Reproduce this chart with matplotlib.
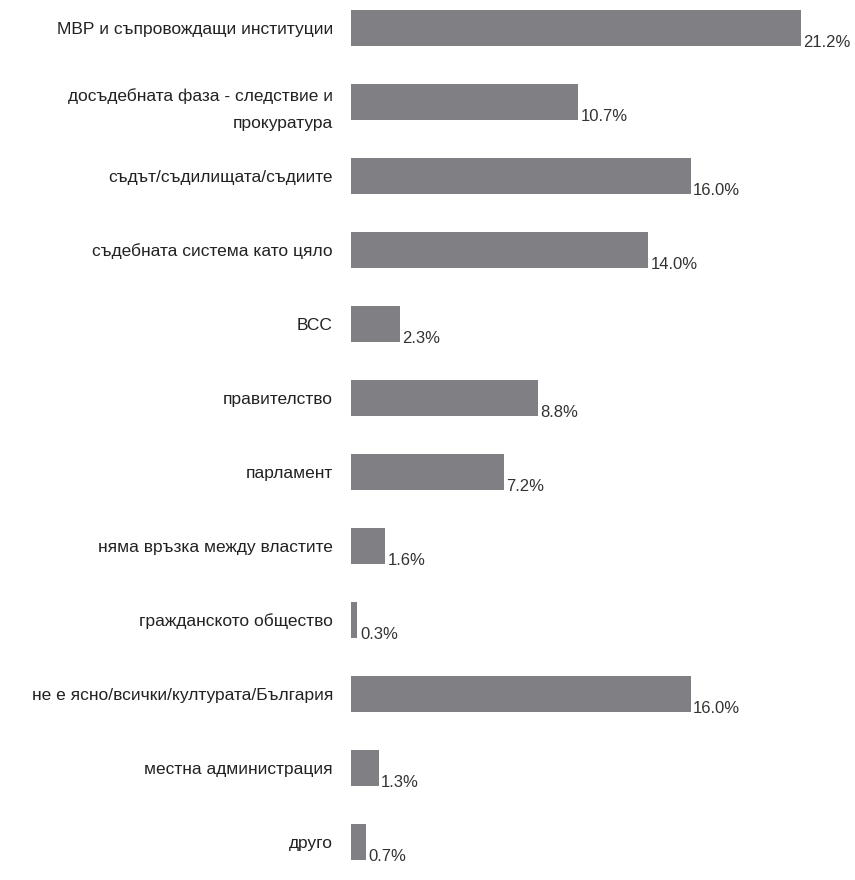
import matplotlib.pyplot as plt
import numpy as np

categories = [
    "МВР и съпровождащи институции",
    "досъдебната фаза - следствие и\nпрокуратура",
    "съдът/съдилищата/съдиите",
    "съдебната система като цяло",
    "ВСС",
    "правителство",
    "парламент",
    "няма връзка между властите",
    "гражданското общество",
    "не е ясно/всички/културата/България",
    "местна администрация",
    "друго",
]
values = [21.2, 10.7, 16.0, 14.0, 2.3, 8.8, 7.2, 1.6, 0.3, 16.0, 1.3, 0.7]

plt.rcParams["font.family"] = ["Liberation Sans Narrow", "Liberation Sans", "DejaVu Sans"]

W, H = 855, 880
fig = plt.figure(figsize=(W / 100, H / 100), dpi=100)
ax = fig.add_axes([351 / W, 20 / H, 450 / W, 850 / H])

y = np.arange(len(values))
bar_h = 36 / 74
ax.barh(y, values, height=bar_h, color="#808084")
ax.set_xlim(0, 21.2)
ax.set_ylim(len(values) - 1 + bar_h / 2, -bar_h / 2)

for yi, v in zip(y, values):
    ax.text(v + 0.12, yi + 0.2, f"{v:.1f}%", ha="left", va="center",
            fontsize=12, color="#333333", clip_on=False)

ax.set_yticks(y)
ax.set_yticklabels(categories, fontsize=12.5, color="#222222", linespacing=2.0)
ax.tick_params(axis="y", length=0, pad=13)
ax.set_xticks([])
for s in ax.spines.values():
    s.set_visible(False)

fig.savefig("out.png", dpi=100)
